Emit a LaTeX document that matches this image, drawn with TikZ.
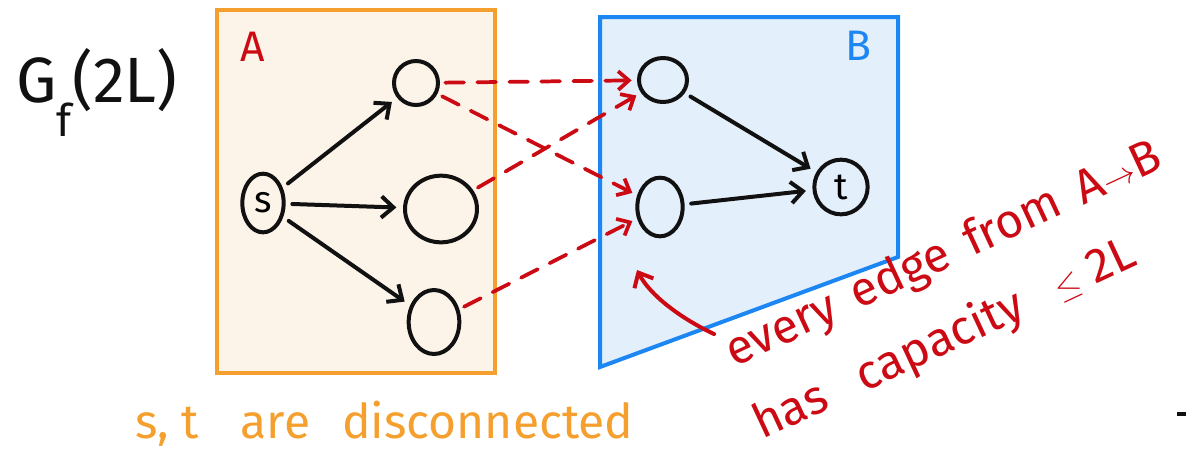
\documentclass[tikz,border=0pt]{standalone}
\usepackage{fontspec}
\setmainfont{Fira Sans}
\usetikzlibrary{arrows.meta,shapes.geometric}
\definecolor{orA}{HTML}{F5A02E}
\definecolor{orFill}{HTML}{FCF4E9}
\definecolor{blB}{HTML}{1C86F2}
\definecolor{blFill}{HTML}{E4EFFC}
\definecolor{redH}{HTML}{CC0A14}
\definecolor{inkK}{HTML}{111111}
\tikzset{
  vtx/.style={draw=inkK, line width=3pt, ellipse, inner sep=0pt},
  blk/.style={draw=inkK, line width=3pt, line cap=round, shorten <=5pt, shorten >=5pt, -{Straight Barb[length=9pt,width=16pt,line width=3pt]}},
  rdash/.style={draw=redH, line width=2.8pt, dash pattern=on 14pt off 10pt, line cap=round, shorten <=4pt, shorten >=4pt, -{Straight Barb[length=8pt,width=14pt,line width=2.8pt]}},
  hand/.style={font=\fontsize{32}{34}\selectfont},
  note/.style={text=redH, font=\fontsize{36}{38}\selectfont, rotate=25, anchor=base west, inner sep=0pt},
}
\begin{document}
\begin{tikzpicture}[x=0.75pt,y=-0.75pt]
\useasboundingbox (0,0) rectangle (1186,455);
% regions
\draw[orA, fill=orFill, line width=3pt] (217,10) rectangle (495,373);
\draw[blB, fill=blFill, line width=3pt, line join=miter] (600,17) -- (898,17) -- (898,257) -- (600,367) -- cycle;
% labels
\node[text=redH, hand] (la) at (253,47) {A};
\node[text=blB, hand] (lb) at (858,46) {B};
\node[text=inkK, font=\fontsize{48}{50}\selectfont, inner sep=0pt] (gf) at (97,92) {G\raisebox{-0.35ex}{\textsubscript{f}}(2L)};
% vertices
\node[vtx, minimum width=31pt, minimum height=44pt] (s) at (263,203) {\fontsize{28}{28}\selectfont s};
\node[vtx, minimum width=33pt, minimum height=33pt] (o1) at (416,83) {};
\node[vtx, minimum width=54pt, minimum height=50pt] (o2) at (441,209) {};
\node[vtx, minimum width=38pt, minimum height=48pt] (o3) at (434,322) {};
\node[vtx, minimum width=36pt, minimum height=33pt] (b1) at (663,80) {};
\node[vtx, minimum width=34pt, minimum height=44pt] (b2) at (660,207) {};
\node[vtx, minimum width=40pt, minimum height=41pt] (t) at (841,187) {\fontsize{28}{28}\selectfont t};
% black arrows
\draw[blk] (s) -- (o1);
\draw[blk] (s) -- (o2);
\draw[blk] (s) -- (o3);
\draw[blk] (b1) -- (t);
\draw[blk] (b2) -- (t);
% red dashed cross edges
\draw[rdash] (o1) -- (b1);
\draw[rdash] (o1) -- (b2);
\draw[rdash] (o2) -- (b1);
\draw[rdash] (o3) -- (b2);
% annotation arrow
\coordinate (ann) at (714,334);
\coordinate (tipB) at (637,270);
\draw[redH, line width=3pt, line cap=round, -{Straight Barb[length=9pt,width=16pt,line width=3pt]}] (ann) .. controls (680,318) and (650,295) .. (tipB);
% texts
\node[note] (t1) at (734,368) {every\hspace{0.15em} edge\hspace{0.15em} from\hspace{0.15em} A$\rightarrow$B};
\node[note] (t2) at (762,440) {has\hspace{0.5em} capacity\hspace{0.5em} $\leq$ 2L};
\node[text=orA, font=\fontsize{36}{38}\selectfont, anchor=base west, inner sep=0pt] (t3) at (135,438) {s, t\hspace{0.6em} are\hspace{0.4em} disconnected};
\coordinate (m1) at (1177,414);
\coordinate (m2) at (1186,414);
\draw[inkK, line width=2.5pt] (m1) -- (m2);
\end{tikzpicture}
\end{document}
